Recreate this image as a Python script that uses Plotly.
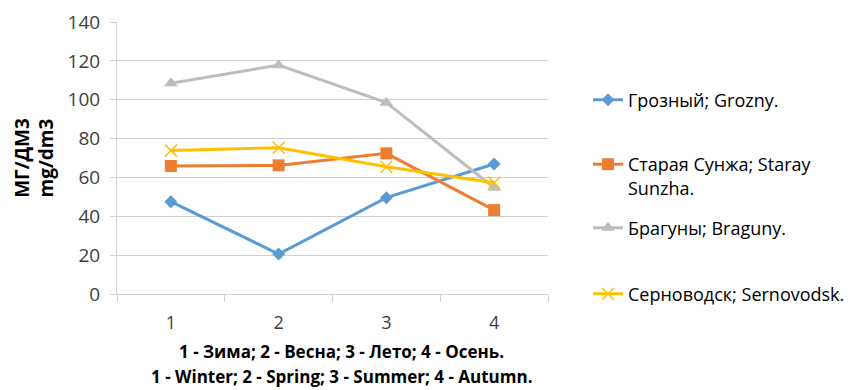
import plotly.graph_objects as go

seasons = [1, 2, 3, 4]
season_labels = ["1", "2", "3", "4"]

grozny = [47.5, 20.6, 49.6, 66.9]
staraya_sunzha = [65.9, 66.2, 72.4, 43.2]
braguny = [108.5, 117.8, 98.5, 54.7]
sernovodsk = [73.8, 75.3, 65.5, 57.3]

names = [
    "Грозный; Grozny.",
    "Старая Сунжа; Staray<br>Sunzha.",
    "Брагуны; Braguny.",
    "Серноводск; Sernovodsk.",
]
x_title_lines = [
    "1 - Зима; 2 - Весна; 3 - Лето; 4 - Осень.",
    "1 - Winter; 2 - Spring; 3 - Summer; 4 - Autumn.",
]
series = [grozny, staraya_sunzha, braguny, sernovodsk]
colors = ["#5B9BD5", "#ED7D31", "#BDBDBD", "#FFC000"]
symbols = ["diamond", "square", "triangle-up", "x-thin"]
marker_sizes = [10, 12, 12, 12]
legend_ids = ["legend", "legend2", "legend3", "legend4"]
legend_y_px = [100, 176, 228, 294]

FONT = "Open Sans"
W, H = 853, 390
M_L, M_R, M_T, M_B = 117, 305, 22, 96
PLOT_H = H - M_T - M_B
GRID = "#D0D0D0"

fig = go.Figure()
for vals, name, col, sym, ms, lg in zip(series, names, colors, symbols, marker_sizes, legend_ids):
    marker = dict(symbol=sym, size=ms, color=col)
    if sym == "x-thin":
        marker["line"] = dict(color=col, width=1.5)
    fig.add_trace(go.Scatter(
        x=seasons, y=vals, name=name, mode="lines+markers",
        line=dict(color=col, width=3), marker=marker, legend=lg,
    ))

layout_legends = {}
for lg, py in zip(legend_ids, legend_y_px):
    layout_legends[lg] = dict(
        xref="container", yref="container",
        x=588 / W, y=1 - py / H, xanchor="left", yanchor="middle",
        valign="top",
        font=dict(family=FONT, size=18, color="#000000"),
        bgcolor="rgba(0,0,0,0)",
    )

# two-line bold x-axis caption, placed below the tick labels
annotations = [
    dict(text=f"<b>{txt}</b>", xref="paper", x=0.52, yref="paper",
         y=(H - M_B - py) / PLOT_H, xanchor="center", yanchor="middle",
         showarrow=False, borderpad=0,
         font=dict(family=FONT, size=17, color="#000000"))
    for txt, py in zip(x_title_lines, [351, 376])
]

fig.update_layout(
    width=W, height=H,
    margin=dict(l=M_L, r=M_R, t=M_T, b=M_B),
    paper_bgcolor="white", plot_bgcolor="white",
    font=dict(family=FONT, size=18, color="#404040"),
    showlegend=True,
    annotations=annotations,
    **layout_legends,
    xaxis=dict(
        range=[0.5, 4.5], automargin=False,
        tickvals=seasons, ticktext=season_labels,
        ticks="", showgrid=False, zeroline=False,
        showline=True, linecolor=GRID, linewidth=1,
        tickfont=dict(family=FONT, size=18, color="#404040"),
        ticklabelstandoff=12,
        minor=dict(tickvals=[0.5, 1.5, 2.5, 3.5, 4.5], ticks="outside",
                   ticklen=7, tickcolor=GRID, showgrid=False),
    ),
    yaxis=dict(
        range=[0, 140], dtick=20, automargin=False,
        showgrid=True, gridcolor=GRID, gridwidth=1,
        zeroline=False, showline=True, linecolor=GRID, linewidth=1,
        ticks="outside", ticklen=6, tickcolor=GRID,
        tickfont=dict(family=FONT, size=19, color="#404040"),
        ticklabelstandoff=6,
        title=dict(
            text="<b>МГ/ДМ3<br>mg/dm3</b>",
            font=dict(family=FONT, size=19, color="#000000"),
            standoff=8,
        ),
    ),
)

fig.write_html("out.html")
